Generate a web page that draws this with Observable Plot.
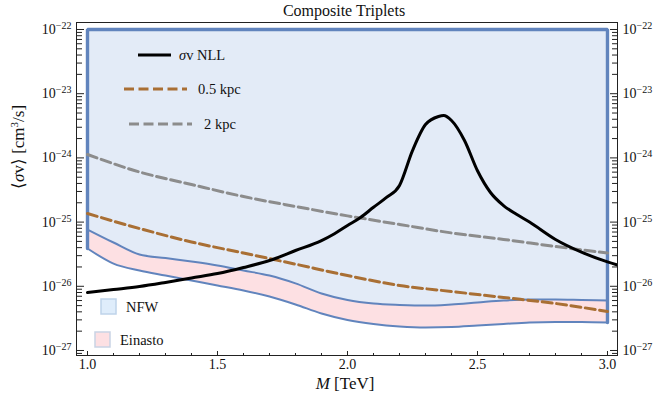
<!DOCTYPE html>
<html><head><meta charset="utf-8">
<script src="https://cdn.jsdelivr.net/npm/d3@7"></script>
<script src="https://cdn.jsdelivr.net/npm/@observablehq/plot@0.6"></script>
<style>body{margin:0;background:#fff}</style>
</head><body><div id="chart"></div>
<script>
// ---- data ----
const title = "Composite Triplets";
const xLabel = "M [TeV]";
const yLabel = "⟨σv⟩ [cm3/s]";
const bandMass = [1.0,1.1,1.2,1.3,1.4,1.5,1.6,1.7,1.8,1.9,2.0,2.1,2.2,2.3,2.4,2.5,2.6,2.7,2.8,2.9,3.0];
const nfwLimit = [7.67e-26,4.81e-26,3.13e-26,2.75e-26,2.43e-26,2.11e-26,1.76e-26,1.47e-26,1.11e-26,7.73e-27,6.12e-27,5.40e-27,5.13e-27,5.0e-27,5.21e-27,5.6e-27,6.01e-27,6.22e-27,6.22e-27,6.12e-27,6.01e-27];
const einastoLimit = [3.88e-26,2.26e-26,1.76e-26,1.47e-26,1.23e-26,1.03e-26,8.61e-27,6.93e-27,5.21e-27,3.77e-27,2.99e-27,2.59e-27,2.37e-27,2.28e-27,2.32e-27,2.45e-27,2.59e-27,2.73e-27,2.78e-27,2.78e-27,2.73e-27];
const regionTop = 1e-22;
const nllMass = [1.0,1.1,1.2,1.3,1.4,1.5,1.6,1.7,1.8,1.9,1.95,2.0,2.05,2.1,2.15,2.2,2.25,2.3,2.35,2.37,2.4,2.45,2.5,2.55,2.6,2.65,2.7,2.8,2.9,3.0,3.04];
const nllSigma = [8.0e-27,8.9e-27,9.93e-27,1.15e-26,1.35e-26,1.58e-26,1.96e-26,2.52e-26,3.61e-26,5.16e-26,6.6e-26,8.85e-26,1.18e-25,1.70e-25,2.42e-25,3.72e-25,1.30e-24,3.31e-24,4.42e-24,4.57e-24,3.83e-24,1.87e-24,6.3e-25,2.89e-25,1.81e-25,1.32e-25,1.0e-25,5.36e-26,3.40e-26,2.40e-26,2.14e-26];
const profileMass = [1.0,1.2,1.4,1.6,1.8,2.0,2.2,2.4,2.6,2.8,3.0];
const kpc05 = [1.36e-25,7.94e-26,4.9e-26,3.3e-26,2.21e-26,1.47e-26,1.03e-26,8.3e-27,6.7e-27,5.4e-27,4.05e-27];
const kpc2 = [1.13e-24,6.03e-25,3.85e-25,2.5e-25,1.75e-25,1.25e-25,9.2e-26,6.78e-26,5.37e-26,4.17e-26,3.30e-26];
const xTickLabels = [1.0,1.5,2.0,2.5,3.0];
const yTickExponents = [-27,-26,-25,-24,-23,-22];
const legendLines = ["σv NLL","0.5 kpc","2 kpc"];
const legendAreas = ["NFW","Einasto"];

// ---- tables ----
const bandRows = bandMass.map((M,i)=>({M, upper: nfwLimit[i], lower: einastoLimit[i]}));
const borderRows = [
  {M: bandMass[0], v: einastoLimit[0]},
  {M: bandMass[0], v: regionTop},
  {M: bandMass[bandMass.length-1], v: regionTop},
  {M: bandMass[bandMass.length-1], v: einastoLimit[einastoLimit.length-1]}
];
const nllRows = nllMass.map((M,i)=>({M, s: nllSigma[i]}));
const profRows = profileMass.map((M,i)=>({M, a: kpc05[i], b: kpc2[i]}));

const yMajor = yTickExponents.map(e => Math.pow(10, e));
const yMinor = [];
for (let e = -28; e <= -22; e++) for (let k = 2; k <= 9; k++) {
  const v = k * Math.pow(10, e);
  if (v > Math.pow(10,-27.078) && v < Math.pow(10,-21.891)) yMinor.push(v);
}
const xMinor = d3.range(10, 31).map(i => i/10).filter(v => !xTickLabels.some(t => Math.abs(t-v) < 1e-9));

const W = 654, H = 413, ML = 76, MR = 37, MT = 22, MB = 58;
const PW = W - ML - MR, PH = H - MT - MB;
const blue = "#6184bd", brown = "#a96f34", gray = "#8c8c8c";
const font = "'Liberation Serif','Times New Roman',serif";
const fmtY = d => "10^" + Math.round(Math.log10(d));
const smooth = "monotone-x";

const chart = Plot.plot({
  width: W, height: H,
  marginLeft: ML, marginRight: MR, marginTop: MT, marginBottom: MB,
  style: {fontFamily: font, fontSize: "13.5px", background: "#fff", color: "#111", overflow: "visible"},
  x: {type: "linear", domain: [0.9577, 3.0385], axis: null},
  y: {type: "log", domain: [Math.pow(10,-27.078), Math.pow(10,-21.891)], axis: null},
  marks: [
    Plot.areaY(bandRows, {x: "M", y1: "lower", y2: regionTop, fill: "#fde0e3", curve: smooth}),
    Plot.areaY(bandRows, {x: "M", y1: "upper", y2: regionTop, fill: "#e3ebf7", curve: smooth}),
    Plot.line(bandRows, {x: "M", y: "upper", stroke: blue, strokeWidth: 2, curve: smooth}),
    Plot.line(bandRows, {x: "M", y: "lower", stroke: blue, strokeWidth: 2, curve: smooth}),
    Plot.line(borderRows, {x: "M", y: "v", stroke: blue, strokeWidth: 3.4, strokeLinejoin: "miter"}),
    Plot.line(profRows, {x: "M", y: "b", stroke: gray, strokeWidth: 3, strokeDasharray: "10,4.5", curve: smooth}),
    Plot.line(profRows, {x: "M", y: "a", stroke: brown, strokeWidth: 3, strokeDasharray: "10,4.5", curve: smooth}),
    Plot.line(nllRows, {x: "M", y: "s", stroke: "#000", strokeWidth: 3, clip: true, curve: smooth}),
    Plot.frame({stroke: "#222", strokeWidth: 1}),
    // inward ticks
    Plot.axisY(yMinor, {anchor: "right", dx: -PW, tickSize: 5, fill: "none", label: null, stroke: "#222"}),
    Plot.axisY(yMajor, {anchor: "right", dx: -PW, tickSize: 7, fill: "none", label: null, stroke: "#222"}),
    Plot.axisY(yMinor, {anchor: "left", dx: PW, tickSize: 5, fill: "none", label: null, stroke: "#222"}),
    Plot.axisY(yMajor, {anchor: "left", dx: PW, tickSize: 7, fill: "none", label: null, stroke: "#222"}),
    Plot.axisX(xMinor, {anchor: "top", dy: PH, tickSize: 3, fill: "none", label: null, stroke: "#222"}),
    Plot.axisX(xTickLabels, {anchor: "top", dy: PH, tickSize: 5, fill: "none", label: null, stroke: "#222"}),
    // labels
    Plot.axisY(yMajor, {anchor: "left", tickSize: 0, tickPadding: 5, tickFormat: fmtY, label: null, fontSize: 14}),
    Plot.axisY(yMajor, {anchor: "right", tickSize: 0, tickPadding: 5, tickFormat: fmtY, label: null, fontSize: 14}),
    Plot.axisX(xTickLabels, {anchor: "bottom", tickSize: 0, tickPadding: 4, tickFormat: d => d.toFixed(1), label: null, fontSize: 14}),
    Plot.text([title], {frameAnchor: "top", dy: -12, dx: -3, fontSize: 16, lineAnchor: "middle"}),
    Plot.text([xLabel], {frameAnchor: "bottom", dy: 28, dx: -2, fontSize: 17, lineAnchor: "middle"}),
    Plot.text([yLabel], {frameAnchor: "left", dx: -58, rotate: -90, fontSize: 17, lineAnchor: "middle"})
  ]
});
document.getElementById("chart").appendChild(chart);

const svg = d3.select(chart);
// superscripts on the log tick labels
svg.selectAll('g[aria-label="y-axis tick label"] text').each(function () {
  const m = this.textContent.match(/^10\^(-?\d+)$/);
  if (!m) return;
  const s = d3.select(this);
  s.text("10");
  s.append("tspan").attr("dy", "-5").attr("font-size", "10px").text(m[1].replace("-", "\u2212"));
});
function rich(txt, parts) {
  svg.selectAll("text").filter(function(){ return this.textContent === txt; }).each(function () {
    const s = d3.select(this); s.text("");
    for (const p of parts) {
      const t = s.append("tspan").text(p.t);
      if (p.i) t.attr("font-style", "italic");
      if (p.sup) t.attr("dy", "-6").attr("font-size", "11px");
      if (p.down) t.attr("dy", "6");
    }
  });
}
rich(xLabel, [{t: "M", i: true}, {t: " [TeV]"}]);
rich(yLabel, [{t: "⟨"}, {t: "σ", i: true}, {t: "v⟩ [cm"}, {t: "3", sup: true}, {t: "/s]", down: true}]);

// legend
const lg = svg.append("g").attr("font-family", font).attr("font-size", 14.5).attr("fill", "#111").attr("text-anchor", "start");
const lineItems = [
  {x1: 138, x2: 171, y: 55, stroke: "#000", dash: null, tx: 179, label: legendLines[0]},
  {x1: 124, x2: 187, y: 89, stroke: brown, dash: "10,4.5", tx: 198, label: legendLines[1]},
  {x1: 129, x2: 192, y: 124, stroke: gray, dash: "10,4.5", tx: 204, label: legendLines[2]}
];
lineItems.forEach((d, i) => {
  lg.append("line").attr("x1", d.x1).attr("x2", d.x2).attr("y1", d.y).attr("y2", d.y)
    .attr("stroke", d.stroke).attr("stroke-width", 3).attr("stroke-dasharray", d.dash);
  const t = lg.append("text").attr("x", d.tx).attr("y", d.y).attr("dy", "0.35em");
  if (i === 0) { t.append("tspan").attr("font-style", "italic").text("σ"); t.append("tspan").text(d.label.slice(1)); }
  else t.text(d.label);
});
const boxItems = [
  {x: 101, y: 299, fill: "#dfedfb", stroke: "#bfd3ea", tx: 126, ty: 307, label: legendAreas[0]},
  {x: 95, y: 332, fill: "#fde0e3", stroke: "#c9d3e5", tx: 120, ty: 340, label: legendAreas[1]}
];
boxItems.forEach(d => {
  lg.append("rect").attr("x", d.x).attr("y", d.y).attr("width", 15).attr("height", 15)
    .attr("fill", d.fill).attr("stroke", d.stroke).attr("stroke-width", 1.5);
  lg.append("text").attr("x", d.tx).attr("y", d.ty).attr("dy", "0.35em").text(d.label);
});
</script>
</body></html>
